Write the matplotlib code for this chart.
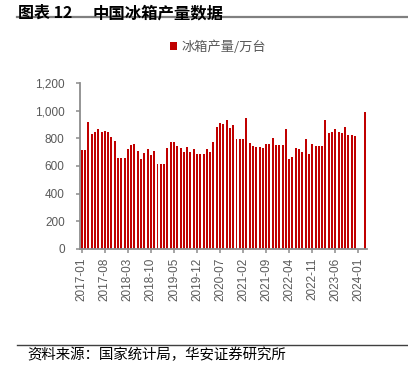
import numpy as np
import matplotlib
matplotlib.use("Agg")
import matplotlib.pyplot as plt
from matplotlib.patches import Patch

plt.rcParams["font.family"] = ["Liberation Sans", "Noto Sans CJK SC", "DejaVu Sans"]

# monthly refrigerator output, 10k units (Jan/Feb 2024 not reported)
months = [f"{y}-{m:02d}" for y in range(2017, 2025) for m in range(1, 13)][:87]
output = [
    715, 715, 920, 834, 846, 868, 848, 855, 843, 812, 781, 658,
    658, 658, 723, 750, 759, 711, 648, 692, 721, 682, 706, 615,
    615, 615, 730, 771, 776, 745, 730, 701, 735, 704, 721, 687,
    687, 687, 723, 699, 774, 884, 909, 904, 933, 875, 897, 793,
    793, 793, 945, 769, 745, 738, 738, 733, 762, 762, 805, 754,
    754, 754, 865, 651, 663, 730, 723, 699, 795, 687, 757, 742,
    742, 742, 933, 836, 846, 870, 846, 836, 880, 824, 824, 815,
    np.nan, np.nan, 990,
]
yticks = [0, 200, 400, 600, 800, 1000, 1200]

chart_no = "图表 12"
title = "中国冰箱产量数据"
series_name = "冰箱产量/万台"
source = "资料来源：国家统计局，华安证券研究所"

red = "#C00000"
grey = "#595959"
axis_grey = "#8C8C8C"
cjk = ["Noto Sans CJK SC", "DejaVu Sans"]

fig = plt.figure(figsize=(4.08, 3.68), dpi=100)
ax = fig.add_axes([0.196, 0.3234, 0.704, 0.4511])

x = np.arange(len(months))
ax.bar(x, output, width=0.6, color=red, linewidth=0)

ax.set_xlim(-0.55, 86.7)
ax.set_ylim(0, 1200)
ax.set_yticks(yticks)
ax.set_yticklabels([f"{v:,}" for v in yticks])
ax.set_xticks(x[::7])
ax.set_xticklabels(months[::7], rotation=90)

for side in ("top", "right"):
    ax.spines[side].set_visible(False)
for side in ("left", "bottom"):
    ax.spines[side].set_color(axis_grey)
    ax.spines[side].set_linewidth(1.3)
ax.tick_params(axis="both", colors=axis_grey, labelcolor=grey, labelsize=8.5,
               length=3, width=1.1, direction="out")
ax.tick_params(axis="y", pad=8)
ax.tick_params(axis="x", pad=3)

fig.legend(handles=[Patch(facecolor=red, edgecolor="none")], labels=[series_name],
           loc="center", bbox_to_anchor=(0.534, 0.872), frameon=False,
           handlelength=0.55, handleheight=0.55, handletextpad=0.3,
           prop={"family": cjk, "size": 9.5}, labelcolor=grey)

fig.text(0.044, 0.988, chart_no, ha="left", va="top", fontsize=11.5,
         fontweight="bold", family=cjk, color="black")
fig.text(0.228, 0.988, title, ha="left", va="top", fontsize=11.8,
         fontweight="bold", family=cjk, color="black")
fig.add_artist(plt.Line2D([0.042, 1.0], [0.953, 0.953], color="#808080", lw=1.6))
fig.add_artist(plt.Line2D([0.042, 1.0], [0.062, 0.062], color="#404040", lw=1.0))
fig.text(0.066, 0.035, source, ha="left", va="center", fontsize=10.4,
         family=cjk, color="black")

fig.savefig("out.png", dpi=100)
